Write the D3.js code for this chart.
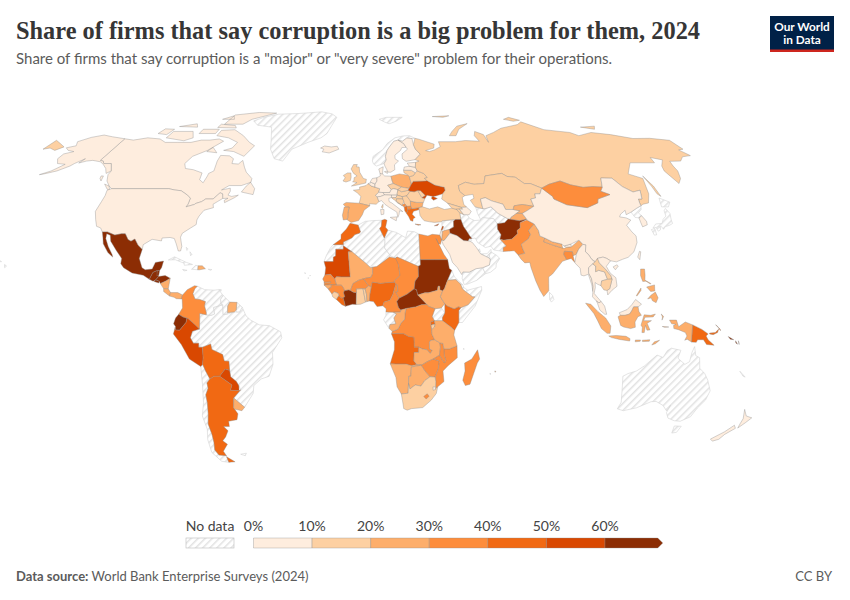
<!DOCTYPE html>
<html><head><meta charset="utf-8">
<script src="https://cdn.jsdelivr.net/npm/d3@7"></script>
<style>html,body{margin:0;padding:0;background:#fff}svg{display:block}</style>
</head><body><svg id="c" width="850" height="600"></svg>
<script>
// ---- Data (share of firms, %; null = no data) ----
const countryNames = ["Greenland","Svalbard","Norway","Brazil","Venezuela","Guyana","French Guiana","Chile","Falklands","Cuba","Haiti","Jamaica","Puerto Rico","Trinidad","Bahamas","Hawaii","Cape Verde","Algeria","Libya","Western Sahara","Gabon","Eritrea","Djibouti","Somalia","Uganda","Yemen","Oman","UAE","Qatar","Kuwait","Iran","Syria","Turkmenistan","Sri Lanka","North Korea","Japan","Australia","New Caledonia","Comoros","Reunion",
"Canada","United States","Mexico","Guatemala","Belize","El Salvador","Honduras","Nicaragua","Costa Rica","Panama","Dominican Republic","Colombia","Suriname","Ecuador","Peru","Bolivia","Paraguay","Argentina","Uruguay","Iceland","Ireland","United Kingdom","France","Spain","Portugal","Belgium","Netherlands","Germany","Denmark","Sweden","Finland","Poland","Czechia","Austria","Switzerland","Italy","Hungary","Slovakia","Slovenia","Croatia","Bosnia","Serbia","Montenegro","Albania","North Macedonia","Greece","Bulgaria","Romania","Moldova","Ukraine","Belarus","Lithuania","Latvia","Estonia","Russia","Turkey","Cyprus","Georgia","Armenia","Azerbaijan","Kazakhstan","Uzbekistan","Kyrgyzstan","Tajikistan","Afghanistan","Pakistan","India","Nepal","Bhutan","Bangladesh","China","Taiwan","Mongolia","South Korea","Iraq","Lebanon","Jordan","Israel","Saudi Arabia","Myanmar","Thailand","Laos","Vietnam","Cambodia","Malaysia","Indonesia","Philippines","Papua New Guinea","Solomon Islands","New Zealand","Morocco","Mauritania","Tunisia","Egypt","Mali","Senegal","Gambia","Guinea-Bissau","Guinea","Sierra Leone","Liberia","Ivory Coast","Ghana","Togo","Benin","Burkina Faso","Niger","Nigeria","Cameroon","Chad","Central African Republic","Sudan","South Sudan","Ethiopia","Kenya","Rwanda","Burundi","DR Congo","Congo","Angola","Zambia","Namibia","Botswana","Zimbabwe","Mozambique","Malawi","Tanzania","South Africa","Lesotho","Eswatini","Madagascar","Mauritius"];
const shareValues = [null,null,null,null,null,null,null,null,null,null,null,null,null,null,null,null,null,null,null,null,null,null,null,null,null,null,null,null,null,null,null,null,null,null,null,null,null,null,null,null,
5,5,65,65,65,65,65,25,25,25,25,35,25,65,55,45,55,45,25,5,15,15,15,25,25,5,5,5,5,5,5,25,15,5,5,5,15,15,5,15,15,15,35,45,35,45,25,15,15,55,15,15,5,5,15,15,55,15,15,5,15,5,25,25,65,35,25,25,5,30,5,5,35,5,65,55,25,5,5,5,5,15,5,15,5,25,25,45,65,5,45,55,45,35,25,35,25,25,35,15,45,65,15,15,25,35,35,45,35,35,65,65,25,25,45,45,15,35,25,45,25,25,25,35,35,35,25,15,35,5,35,25];
const thresholds = [10,20,30,40,50,60];
const binColors = ["#feedde","#fdd0a2","#fdae6b","#fd8d3c","#f16913","#d94801","#8c2d04"];
const legendTicks = [0,10,20,30,40,50,60];
const titleText = "Share of firms that say corruption is a big problem for them, 2024";
const subtitleText = "Share of firms that say corruption is a \"major\" or \"very severe\" problem for their operations.";
// Robinson projection table
const robLat = [0,5,10,15,20,25,30,35,40,45,50,55,60,65,70,75,80,85,90];
const robLen = [1,.9986,.9954,.99,.9822,.973,.96,.9427,.9216,.8962,.8679,.835,.7986,.7597,.7186,.6732,.6213,.5722,.5322];
const robHgt = [0,.062,.124,.186,.248,.31,.372,.434,.4958,.5571,.6176,.6769,.7346,.7903,.8435,.8936,.9394,.9761,1];
// Country outlines: "lon,lat lon,lat ..." rings separated by ";"
const outlines = {
"Greenland":"-73,78.2 -68,80 -60,82 -45,82.5 -30,83.5 -22,82.2 -18,80 -20,76 -22,72 -25,70 -32,68 -40,65 -43,60 -48,61 -52,65 -54,69 -58,75 -68,76",
"Svalbard":"11,79 16,80 27,80 22,78 17,76.7 14,77.7",
"Norway":"7,58 11.2,59 12.5,60.5 12.2,62 13.5,64.5 15,66 18,68.5 20.6,69 23,68.5 26,69.9 29,69.7 30.8,69.8 28,71 24,70.9 19,70 14,67.5 11,64.8 5.5,62 5,60 5.6,58.8",
"Brazil":"-60,5 -59.8,1.3 -58,1.5 -55,2.3 -54.2,2.3 -52.8,2.3 -51.7,4.1 -50,0.8 -48,-0.8 -44.3,-2.6 -40,-2.9 -35.3,-5.2 -34.8,-7.5 -39,-13 -39,-17.5 -41,-22 -44.5,-23 -48,-25.5 -48.7,-28.5 -53.4,-33.7 -57.6,-30.2 -54,-27.1 -54.6,-25.6 -55.5,-24 -57.8,-22.2 -58,-19.8 -58,-16.3 -60,-16.2 -60.5,-13.8 -65,-11.9 -65.4,-9.8 -69,-11 -70.6,-11 -70.5,-9.5 -72.8,-9.5 -74,-7.5 -73,-5 -70,-4.2 -69.8,-0.5 -69.8,1.7 -67,1.2 -65,1 -63.5,1.5 -64,4",
"Venezuela":"-71.3,12 -68,10.7 -64,10.5 -62,10.7 -60,8.5 -61,7 -60.7,5.2 -60,5 -64,4 -63.5,1.5 -65,1 -67,1.2 -67,2 -67.8,4.5 -67.5,6.2 -70,7 -72,7.2 -73,9.2 -72.3,11",
"Guyana":"-60,8.5 -57,6 -57.9,4.5 -58,1.5 -59.8,1.3 -60,5 -60.7,5.2 -61,7",
"French Guiana":"-54,5.9 -51.7,4.1 -52.8,2.3 -54.2,2.3",
"Chile":"-70.4,-18.3 -69.5,-17.5 -68.5,-20 -67,-23 -68.5,-24.5 -68.3,-26.5 -69.8,-29 -69.8,-32 -70.5,-36 -71.8,-40 -71.6,-44 -72,-47 -73,-50 -72,-52 -68.4,-52.3 -68.6,-54.9 -72,-54.5 -75,-51 -74.5,-46 -73,-42 -73.5,-37 -71.5,-32 -70.5,-25",
"Falklands":"-61,-51.7 -58,-51.3 -59,-52.3",
"Cuba":"-85,21.9 -82.5,23.1 -77,21 -74.2,20.2 -77.7,19.9 -78,20.7 -82,22",
"Haiti":"-74.4,18.4 -72.8,19.9 -71.7,19.7 -71.7,18.2",
"Jamaica":"-78.3,18.3 -76.3,18 -77.5,17.8",
"Puerto Rico":"-67.2,18.4 -65.6,18.3 -66,18",
"Trinidad":"-61.9,10.7 -60.9,10.7 -61,10.1",
"Bahamas":"-78,26.7 -77,26 -77.5,25.5;-76,25 -75,24 -75.5,23.5",
"Hawaii":"-156,20.2 -155,19.6 -155.7,19;-158.2,21.6 -157.7,21.3 -158,21.2;-160,22.2 -159.4,22.1 -159.6,21.8",
"Cape Verde":"-25.3,17.1 -24.8,16.9 -25.1,16.7;-23.7,15.3 -23.4,15.1 -23.6,14.9;-22.9,16.2 -22.7,16 -23,15.9",
"Algeria":"-1.1,32.5 -2.2,35.1 1,36.5 5,36.8 8.6,36.9 8.3,34.6 7.5,33.8 9.5,30.2 9.8,29 9.5,26.5 12,23.5 11.6,23 6,19.4 4.2,19.2 3.3,19 1.2,20.7 -4.8,25 -8.7,27.3 -8.7,28.7 -5,30.2 -3.6,31.5 -1.7,32",
"Libya":"9.5,30.2 10.2,31.5 11.2,33.2 15,32.3 19,30.3 20,32.8 23,32.6 25,31.7 25,22 25,20 24,20 24,19.5 15,23 14.2,22.6 12,23.5 9.5,26.5 9.8,29",
"Western Sahara":"-13.2,27.7 -8.7,27.7 -8.7,26 -12,26 -12,23.4 -13,21.3 -17,21.3 -16,23.7 -14.5,26.2",
"Gabon":"8.8,-0.7 9.8,1 9.8,2.3 13,2.2 14.3,1.5 13.2,0 14,-2.2 11.5,-2.5 11.2,-4",
"Eritrea":"36.5,14.3 38.5,18 39.5,15.5 43,12.5 42,12.8 40,14.5 37.5,14.3",
"Djibouti":"42,12.8 43,12.5 43.3,11.5 42.7,11",
"Somalia":"42.7,11 43.3,11.5 45,10.5 51,11.9 51,10.5 48,4.5 42.5,-1.7 41,-1.7 41,2.8 41.9,3.9 45,5 48,8 47,8 44,10",
"Uganda":"30.8,3.5 33.5,3.8 35,1.9 33.9,0.1 34,-1 30.5,-1 29.6,0.6",
"Yemen":"43.3,17.4 46,17.3 49,18.6 52,19 53,16.7 49,14.2 45,12.8 43.5,12.7 42.8,15",
"Oman":"52,19 55,20 55.6,22 55.2,24 56.3,24.9 58.6,23.6 59.8,22.5 58,20.4 57.8,19 55.3,17.3 53,16.7",
"UAE":"51.6,24.2 55.1,22.7 55.6,22 55.2,24 56.3,24.9 56.3,25.9 54.5,24.3",
"Qatar":"50.8,24.7 51.6,25 51.3,26.1 50.8,25.8",
"Kuwait":"47.4,30 47.9,29.9 48.3,29.3 47.4,29 46.6,29.1",
"Iran":"44.8,39.7 48,39 49,37.6 51,36.8 54,37 53.8,37.3 55,38 60,37.5 61,35.6 60.7,33.5 61.8,31.4 60.9,29.8 63.3,27.2 61.8,26.5 61.6,25.1 57.5,25.7 56.5,27.1 54,26.6 50.8,28.5 50,30.2 48.5,30 47.7,31 46.5,33 45.5,34.5 44.8,37.2",
"Syria":"35.8,35.5 36.2,36.7 42.4,37.2 41.3,36.6 41,34.4 38.8,33.4 36.6,33 35.9,34.6",
"Turkmenistan":"52.8,41.8 56,41.3 57,41.3 60,42 62.5,39.5 66.5,37.4 64.5,36 61,35.6 60,37.5 55,38 53.8,37.3 53,39.5",
"Sri Lanka":"80,9.7 81.3,8.5 81.8,7 80.7,6 80,7",
"North Korea":"124.3,40 128,41.5 130.6,42.4 129.7,41 127.5,39.7 128.4,38.6 126.7,37.8 125,38",
"Japan":"131,34 133,35.5 136,35.7 137.5,37.3 139.5,38.5 140,40.5 141.3,41.4 142,39.5 141,37 140.8,35.7 139,35 136.8,34.5 135.5,33.5 135,34.6 132.5,34.2;140,42 141.5,45.4 145.3,43.8 143.2,42;130,33.4 131.7,33.8 131.4,31.4 130.3,31.3;132.5,33.8 134.5,34.2 134,33.3 132.8,32.8",
"Australia":"113.5,-22 114.2,-26 115.7,-31.8 115,-34.3 118,-35 123.5,-33.9 129,-31.6 131.2,-31.5 135,-33 137.7,-35.1 138.4,-32.9 138,-35.7 140,-37.8 143.5,-38.8 146.4,-39 150,-37.3 151,-34 153,-31 153.5,-27.5 151,-23.5 149,-21 146.3,-19 145.3,-15 143.5,-14.2 142.5,-10.8 141.7,-13 141.3,-16.5 139.5,-17.5 136,-15.2 136.8,-12.2 132.6,-11.4 131,-12.3 129.5,-14.9 126.8,-14 125,-15.5 122.2,-18 119,-20 115.5,-21;145,-40.8 148.3,-40.9 148,-43.2 146,-43.5",
"New Caledonia":"164,-20.1 167,-22.3 166,-22",
"Comoros":"43.3,-11.4 43.5,-11.9 43.2,-11.8",
"Reunion":"55.3,-20.9 55.8,-21.1 55.4,-21.3",
"Canada":"-141,69.6 -135,69 -128,70 -120,69.5 -115,68 -108,68 -100,68 -95,69 -90,69 -85,69.5 -81.5,68.5 -85,66 -87,64.5 -93,62 -94.5,59 -92.5,57 -88,56.5 -82.5,55.2 -82,52.5 -79.5,51.3 -79,54 -79,55 -77,56 -77.5,58 -78,60 -78,62.4 -73,62.2 -70,61 -69.5,59 -66,58.8 -64.5,60.3 -62,57.5 -60,55.5 -56,53 -55.8,51.5 -60,50.2 -66,50.2 -69,48.5 -65,49.2 -64.5,48 -65,46.5 -63,46 -60,46.5 -61.5,45.5 -65.5,43.6 -66,44.5 -64.5,45.3 -67,45.2 -67.8,47 -69.2,47.4 -71.5,45 -75,45 -76.5,44 -79,43.3 -79.5,42.9 -83,42 -82.5,43.1 -82.5,45.3 -84.5,46.5 -88.5,48.2 -92,48.5 -95,49 -123,49 -125,50 -128,52 -130,54.5 -130,56 -133.5,59 -137.5,59 -139,60 -141,60.3;-62,66.5 -65,62 -72,64 -78,64.5 -74,65.5 -73,68 -80,70 -88,71 -88,73.5 -80,73.8 -72,71 -66,68;-117,70 -105,68.7 -101,70 -105,73 -117,73;-125,72 -119,71.5 -118,74 -124,74.2;-90,76.5 -78,76.5 -75,79 -62,82.7 -75,83.1 -90,81.5;-92,74.8 -80,74.6 -82,75.8 -92,76.5;-95,79 -87,79 -90,81;-117,75.3 -105,75 -108,76.7;-100,72 -90,72 -90,74 -100,74;-87,64 -81,63.5 -85,65.8;-59,47.7 -53,46.7 -53,49 -56,51.5 -57.5,50;-128,50.8 -125,50 -123.5,48.4 -125,48.8;-133,54 -131.8,54 -131,52 -132.5,53",
"United States":"-124.7,48.4 -123,49 -95,49 -92,48.5 -88.5,48.2 -84.5,46.5 -82.5,45.3 -82.5,43.1 -83,42 -79.5,42.9 -79,43.3 -76.5,44 -75,45 -71.5,45 -69.2,47.4 -67.8,47 -67,45.2 -69,44 -70.7,43 -70,41.7 -74,40.7 -75.5,38.5 -76,37 -75.7,35.3 -78,33.9 -81,32 -81.4,30.5 -80,27 -80.2,25.3 -81.2,25.3 -82.7,28 -84,30 -86,30.4 -89.5,30.2 -89.5,29.1 -93.8,29.7 -97.2,27.7 -97.2,25.9 -99.5,27.5 -101.5,29.8 -103,29 -104.5,29.6 -106.5,31.8 -108.2,31.8 -111,31.3 -114.8,32.5 -117.1,32.5 -118.5,34 -120.6,34.6 -122.4,37.2 -124.3,40.3 -124,44 -124,46.3;-141,69.6 -141,60.3 -139,60 -137.5,59 -133.5,59 -130,56 -131.5,55 -134,57 -137,58.5 -140,59.7 -145,60.3 -148,60 -151,59.2 -150,61 -153,59 -154,58 -158,56 -163,54.8 -165,54.5 -161,56 -157.5,58.7 -162,59 -165,61 -165,63 -161,64 -165,64.5 -168,65.6 -164,66.5 -166.5,68.3 -162,70.2 -156.5,71.3 -150,70.5",
"Mexico":"-117.1,32.5 -114.8,32.5 -111,31.3 -108.2,31.8 -106.5,31.8 -104.5,29.6 -103,29 -101.5,29.8 -99.5,27.5 -97.2,25.9 -97.8,22.5 -96,19 -94.5,18.2 -91.5,18.5 -90.5,21 -87,21.5 -87.5,19 -88.2,17.9 -89.2,17.9 -91,17.2 -92.2,14.6 -95,16.1 -100,17 -104,19 -105.5,20.5 -105.5,22.5 -108.5,25.5 -112,29 -113,31.2 -114.8,31.8 -114.5,30 -112.5,27 -110,24 -109.5,23 -112,24.7 -115,28 -116,30.5",
"Guatemala":"-92.2,14.6 -91,17.2 -89.2,17.9 -88.3,15.7 -89.4,14.4 -90.5,13.9",
"Belize":"-89.2,17.9 -88.2,17.9 -88.3,16.2 -89.1,15.9",
"El Salvador":"-90.1,13.8 -89.4,14.4 -87.8,13.9 -88,13.2",
"Honduras":"-89.4,14.4 -88.3,15.7 -85.5,16 -83.2,15 -85,14 -87.3,13 -87.8,13.9",
"Nicaragua":"-87.3,13 -85,14 -83.2,15 -83.7,11 -85.7,11.1",
"Costa Rica":"-85.7,11.1 -83.7,11 -82.6,9.6 -83,8.3 -85.6,10",
"Panama":"-83,8.3 -82.6,9.6 -79.5,9.6 -77.4,8.7 -77.9,7.2 -80,7.3 -81,7.8",
"Dominican Republic":"-71.7,19.7 -69.9,19.7 -68.4,18.6 -71,18.2 -71.7,18.2",
"Colombia":"-77.4,8.7 -75.5,10.7 -72.5,12.2 -71.3,12 -72.3,11 -73,9.2 -72,7.2 -70,7 -67.5,6.2 -67.8,4.5 -67,2 -67,1.2 -69.8,1.7 -69.8,-0.5 -70,-4.2 -72,-2.5 -74.8,-0.2 -77,0.4 -78.8,1.4 -77.2,3.8 -77.5,7.2 -77.9,7.2",
"Suriname":"-57,6 -54,5.9 -54.2,3 -55,2.3 -57.9,2 -57.9,4.5",
"Ecuador":"-78.8,1.4 -77,0.4 -75.3,-0.1 -75.6,-1.6 -78.5,-4.6 -80.3,-4.5 -80.2,-3.2 -81,-2.2 -80.1,0",
"Peru":"-80.3,-3.4 -80.3,-4.5 -78.5,-4.6 -75.6,-1.6 -75.3,-0.1 -74.8,-0.2 -72,-2.5 -70,-4.2 -73,-5 -74,-7.5 -72.8,-9.5 -70.5,-9.5 -70.6,-11 -69,-11 -69,-15 -69.5,-17.5 -70.4,-18.3 -75,-15.5 -78,-10 -81.2,-6",
"Bolivia":"-69,-11 -65.4,-9.8 -65,-11.9 -60.5,-13.8 -60,-16.2 -58,-16.3 -58,-19.8 -59.9,-19.3 -62.6,-22 -65,-22 -67,-23 -68.5,-20 -69.5,-17.5 -69,-15",
"Paraguay":"-62.6,-22 -59.9,-19.3 -58,-19.8 -57.8,-22.2 -55.5,-24 -54.6,-25.6 -54.8,-27.4 -58.6,-27.3 -57.6,-25.3",
"Argentina":"-67,-23 -65,-22 -62.6,-22 -57.6,-25.3 -58.6,-27.3 -54.8,-27.4 -54,-27.1 -57.6,-30.2 -58.4,-33.9 -57,-36.2 -58,-38.4 -62,-39 -62.3,-41 -65,-41 -63.5,-42.6 -65.5,-45 -67.5,-46.5 -65.8,-47.8 -69,-50.5 -68.4,-52.3 -72,-52 -73,-50 -72,-47 -71.6,-44 -71.8,-40 -70.5,-36 -69.8,-32 -69.8,-29 -68.3,-26.5 -68.5,-24.5;-68.6,-52.7 -65.3,-54.7 -68.6,-54.9",
"Uruguay":"-58.4,-33.9 -57.6,-30.2 -53.4,-33.7 -54.9,-35 -58.2,-34.4",
"Iceland":"-24,65.5 -22,66.4 -18,66 -14.7,66.3 -13.6,65 -18.7,63.4 -22.7,63.9 -22,65",
"Ireland":"-10,52 -9,53.3 -10,54.2 -8,55.2 -6.2,55.2 -6,53.5 -6.3,52.2 -8.5,51.6",
"United Kingdom":"-5.7,50 -3.5,50.3 1.4,51.2 1.7,52.7 0.2,53 -1.7,55.5 -2,57.6 -3.5,57.7 -3,58.6 -5,58.6 -6.2,56.8 -4.8,55 -3,54 -4.5,53.3 -4.5,52.2 -5.2,51.7 -3,51.4",
"France":"-1.8,43.4 -1,46 -2.8,47.4 -4.7,48.4 -1.6,48.7 -1.7,49.6 1.5,50.2 2.5,51 4.2,50 5.8,49.6 8.2,49 7.6,47.6 6,46.4 6.8,45.8 7.6,44 6.2,43 3.1,43.2 3.2,42.4;8.6,41.9 9.4,43 9.4,42 9.1,41.4",
"Spain":"-9.3,43 -8,43.7 -1.8,43.4 3.2,42.4 0.5,40.7 -0.3,39 -2,36.8 -5.4,36.1 -7.4,37.2 -7,38 -7,39.6 -6.5,41.9 -8.2,42",
"Portugal":"-8.8,41.9 -6.5,41.9 -7,39.6 -7,38 -7.4,37.2 -9,37 -9.5,38.8",
"Belgium":"2.5,51 4.3,51.4 6,50.8 5.8,49.6 4.2,50",
"Netherlands":"3.5,51.5 4.7,53 7,53.3 7,52 6,50.8 4.3,51.4",
"Germany":"6,50.8 7,52 7,53.3 8.8,54 8.7,55 10,54.8 11,54 14.2,53.9 14.6,52 15,51 12.2,50.3 13.8,48.7 13,47.5 9.6,47.5 7.6,47.6 8.2,49 5.8,49.6",
"Denmark":"8.7,55 8.2,56.8 10.6,57.7 10.2,56 10,54.8;11,55.7 12.6,56 12.5,55",
"Sweden":"11.2,59 11.5,58 12.9,55.5 14.3,55.5 16.5,56.5 16.6,58.5 19,60 17.3,61 17.5,62.5 21,64.5 22,65.7 24.5,65.8 23.5,67.5 20.6,69 18,68.5 15,66 13.5,64.5 12.2,62 12.5,60.5",
"Finland":"20.6,69 23,68.5 26,69.9 29,69.7 29,67 29.5,65 31.5,62.9 28,60.6 23,59.9 21.3,61 21.5,63 25,65 24.5,65.8 23.5,67.5",
"Poland":"14.2,53.9 18.6,54.8 23,54.3 23.5,53.7 24,50.8 22.6,49.1 18.8,49.6 15,51 14.6,52",
"Czechia":"12.2,50.3 15,51 18.8,49.6 17,48.6 15,49 13.8,48.7",
"Austria":"9.6,47.5 13,47.5 13.8,48.7 15,49 17,48.6 16.5,47 16.5,46.5 13.7,46.5 10.4,46.6",
"Switzerland":"6,46.4 7.6,47.6 9.6,47.5 10.4,46.6 8.5,46 6.8,45.8",
"Italy":"7.6,44 6.8,45.8 8.5,46 10.4,46.6 13.7,46.5 13.7,45.6 12.3,45.2 12.4,44 13.6,43.5 16,41.9 18.5,40.2 17,40.5 16.6,39 16,38 15.7,40 12.3,41.8 10.3,43 8.8,44.4;12.5,38 15.6,38.2 15.2,36.7;8.2,41 9.8,41 9.6,39.2 8.4,39",
"Hungary":"16.5,47 17,48.6 18.8,47.8 22,48.4 22.9,48 21,46.2 18.8,45.9 16.5,46.5",
"Slovakia":"17,48.6 18.8,49.6 22.6,49.1 22,48.4 18.8,47.8",
"Slovenia":"13.7,46.5 16.5,46.5 15.7,45.5 13.7,45.5",
"Croatia":"13.7,45.5 15.7,45.5 16.5,46.5 18.8,45.9 19,45 16,45.1 15.8,44.2 18.4,42.5 16.5,43.4 15,44.6 14.3,45",
"Bosnia":"16,45.1 19,45 19.4,44 18.5,42.8 18.4,42.5 15.8,44.2",
"Serbia":"18.8,45.9 21,46.2 22.5,44.6 22.4,43 22.4,42.3 20.6,42 19.5,43.2 19.4,44 19,45",
"Montenegro":"18.5,42.8 19.5,43.2 20.3,42.7 19.3,41.9 18.5,42.4",
"Albania":"19.3,41.9 20.5,42.4 20.9,41 20.9,40.3 20,39.7 19.4,40.5",
"North Macedonia":"20.5,42.2 22.4,42.3 23,41.3 20.9,41",
"Greece":"20,39.7 20.9,40.3 20.9,41 23,41.3 26.2,41.7 26,40.9 23.5,40.3 22.7,39.2 24,38 23,37.5 22.8,36.5 21.7,36.8 21,38.3;23.6,35.5 26.3,35.2 25,35",
"Bulgaria":"22.4,43 22.5,44.2 25.5,43.7 28.5,43.7 27.8,42 26.2,41.7 23,41.3 22.4,42.3",
"Romania":"21,46.2 22.9,48 24.9,47.8 26.6,48.3 28.2,45.5 29.6,45.2 28.6,43.7 25.5,43.7 22.5,44.2",
"Moldova":"26.6,48.3 28,48.2 30,46.4 28.2,45.5",
"Ukraine":"22,48.4 22.6,49.1 24,50.8 25,51.9 31,52 32,52.2 35.5,50.4 40,49.5 40,48.3 38.5,47 35,46.2 33.6,46 35.5,45.2 33.5,44.5 32.6,45.4 33.5,46 30.8,46.5 29.6,45.2 28.2,45.5 30,46.4 28,48.2 26.6,48.3 24.9,47.8 22.9,48",
"Belarus":"24,50.8 23.5,53.7 25.7,54.2 26.8,55.3 28,56 31,55 32.5,53.4 31,53 32,52.2 31,52 25,51.9",
"Lithuania":"21,55.3 21,56.3 25,56.3 26.8,55.3 25.7,54.2 23.5,53.7 23,54.3",
"Latvia":"21,56.3 21.6,57.6 24.3,57.9 27.4,57.5 28,56 26.8,55.3 25,56.3",
"Estonia":"23.5,59.2 28,59.5 27.4,57.5 24.3,57.9",
"Russia":"30.8,69.8 33,69.4 41,67.2 40,65.5 35,64.4 37,64 40,64.7 44,66.1 44,68.3 54,68.3 60,68.8 68,68.5 67,71 69,73 73,71.5 73,68 74,71 80,72.5 87,74.5 100,76.3 104.5,77.7 113,73.8 127,72.5 130,71 140,72.5 150,71.5 160,69.7 170,69.8 180,68.9 180,65 177,64.7 179.2,62.3 174,61.8 170,60 164,59.9 163,58 162.5,56 160,53 156.8,51 155.5,56 157,58 161,60.5 156,61.5 155,59.3 142,59.3 135.5,54.8 141,53 138,47 135,43.5 132,43 130.6,42.4 130.8,43.5 131.3,45 133,45 135,48.4 131,47.7 127.5,49.8 125.5,53.1 120,53.2 117.5,49.6 113,49.8 108,49.5 102.5,50.5 98.5,52 92,50.7 87.5,49.2 83,51 80,51 77,53.5 73,53.8 71,55 62,54 60,51 55,50.7 51,51.5 47,50.2 47,48 49,46.3 47.5,45.6 47.5,43 48.5,41.9 46,41.8 40,43.4 37.5,45 38.5,47 40,48.3 40,49.5 35.5,50.4 32,52.2 31,53 32.5,53.4 31,55 28,56 27.4,57.5 28,59.5 30,60 28,60.6 31.5,62.9 29.5,65 29,67;52,71 55,73 60,75.5 68,76.8 60,74 56,71;142,54 143,50 143,46 142,47 142,50;95,79 100,80 105,78.5 100,78;138,75 148,75.5 145,74;-180,68.9 -175,67.5 -170,66 -172.5,64.5 -177,65.5 -180,65;48,80.5 60,81 55,80",
"Turkey":"26.2,40 26.2,41.7 28,42 31,41.2 35,42 38,41 41.5,41.5 43.5,41.1 44.8,39.7 44.8,37.2 42.4,37.2 36.2,36.7 35.8,36.3 32.5,36.1 30.5,36.3 28,36.7 27.2,37.5 26.3,38.7",
"Cyprus":"32.3,34.8 34.5,35.6 33.8,34.9",
"Georgia":"40,43.4 46,41.8 46.5,41.1 43.5,41.1 41.5,41.5",
"Armenia":"43.5,41.1 45,41.2 46.5,39 44.8,39.7",
"Azerbaijan":"46,41.8 48.5,41.9 50.3,40.3 49,39 48,39 46.5,39 45,41.2 46.5,41.1",
"Kazakhstan":"47,48 47,50.2 51,51.5 55,50.7 60,51 62,54 71,55 73,53.8 77,53.5 80,51 83,51 87.5,49.2 85.5,47 83,47 82.5,45.4 80,45 80.2,42.2 75,42.9 71,42.4 70,41 66.5,41 66,43 61,44.3 58.5,45.5 56,45 56,41.3 52.5,42 51,44.5 53,45.3 53,46.8 49,46.3",
"Uzbekistan":"56,41.3 56,45 58.5,45.5 61,44.3 66,43 66.5,41 70,41 73,40.5 71,39.5 68,38 67.5,37.3 66.5,37.4 62.5,39.5 60,42 57,41.3",
"Kyrgyzstan":"71,42.4 75,42.9 80.2,42.2 76,40.4 73.7,39.5 71,39.5 73,40.5 70,41",
"Tajikistan":"68,38 71,39.5 73.7,39.5 75,37.3 71.5,36.7 68,37.2 67.5,37.3",
"Afghanistan":"61,35.6 64.5,36 66.5,37.4 67.5,37.3 68,37.2 71.5,36.7 75,37.3 71.5,36 71,34 69.3,33 69.3,31.8 66.5,30 66.3,29.8 62.5,29.4 60.9,29.8 61.8,31.4 60.7,33.5",
"Pakistan":"60.9,29.8 62.5,29.4 66.3,29.8 66.5,30 69.3,31.8 69.3,33 71,34 71.5,36 75,37 77.8,35.5 74.5,33 75,31.5 73.5,29.8 70,27.8 70.5,25.7 71,24.4 68,23.8 66.5,25.4 61.6,25.1 61.8,26.5 63.3,27.2",
"India":"68,23.8 71,24.4 70.5,25.7 70,27.8 73.5,29.8 75,31.5 74.5,33 77.8,35.5 79,33 79,31 81,30.2 80.2,28.8 84,27.5 88,26.4 88.8,26.3 89.8,26.7 92,26.9 96,29.4 97.3,27.8 95,26 93.5,24 92,23.5 92,25 88.5,25.2 88,24 89,22 87,21.4 85,19.5 82,16.6 80.2,15.5 80,13 79.8,10.3 77.5,8.1 76,10.5 74.5,14 73,19 72.7,21 70.5,20.8 69,22.3",
"Nepal":"80.2,28.8 81,30.2 84,28.8 88,27.9 88,26.4 84,27.5",
"Bhutan":"88.8,27.2 92,27.9 92,26.9 89.8,26.7",
"Bangladesh":"88,24 88.5,25.2 92,25 92,23.5 92.3,21 91,22.5 89,22",
"China":"73.7,39.5 76,40.4 80.2,42.2 80,45 82.5,45.4 83,47 85.5,47 87.5,49.2 91,46 91,45 96,42.8 105,41.7 111,43.5 112,45 119,46.7 115.5,48 117.5,49.6 120,53.2 125.5,53.1 127.5,49.8 131,47.7 135,48.4 133,45 131.3,45 130.8,43.5 130.6,42.4 128,41.5 124.3,40 121.5,39 122,40.7 119,39.2 118,38.2 120.8,37.8 122.5,37 119.5,35 120.8,32.5 122,31 121.5,28.5 119,25 116,22.9 113.5,22.2 110.5,21.2 108,21.6 106.5,22.5 105,23 102.5,22.5 101.5,21.2 100,22 98.8,24 97.7,25 98.5,27.6 97.3,27.8 96,29.4 92,27.9 88.8,27.2 88,27.9 84,28.8 81,30.2 79,31 79,33 77.8,35.5 75,37 75,37.3;108.7,19.3 110.5,20.1 111,19.6 109.5,18.2",
"Taiwan":"120.2,23 121.5,25.2 122,25 120.9,22",
"Mongolia":"87.5,49.2 92,50.7 98.5,52 102.5,50.5 108,49.5 113,49.8 117.5,49.6 115.5,48 119,46.7 112,45 111,43.5 105,41.7 96,42.8 91,45 91,46",
"South Korea":"126.7,37.8 128.4,38.6 129.4,36.5 129,35.2 126.5,34.4 126.5,36",
"Iraq":"38.8,33.4 41,34.4 41.3,36.6 42.4,37.2 44.8,37.2 45.5,34.5 46.5,33 47.7,31 48.5,30 47.9,29.9 47.4,30 46.6,29.1 44.7,29.2 42,31.1 39,32",
"Lebanon":"35.1,33.1 35.9,34.6 36.5,34.5 35.7,33.2",
"Jordan":"34.9,29.4 35.5,32 35.6,32.7 36.6,33 38.8,33.4 39,32 36,29.2",
"Israel":"34.3,31.3 34.9,29.5 35.5,32 35.6,33 35.1,33",
"Saudi Arabia":"34.9,29.4 36,29.2 39,32 42,31.1 44.7,29.2 46.6,29.1 47.4,29 48.5,28.5 50.1,26.5 51.6,24.2 55.1,22.7 55.6,22 55,20 52,19 49,18.6 46,17.3 43.3,17.4 42.7,16.4 41,19 39,21 38,24 35.5,27.7",
"Myanmar":"92.3,20.8 93.5,24 95,26 97.3,27.8 98.5,27.6 97.7,25 98.8,24 100,22 101.2,21.2 100,20.4 98,19 97.7,17 98.6,15 99,12 98.7,10 98.5,12.5 97.5,16.5 95.5,15.9 94.3,16.2 94.3,18.8",
"Thailand":"97.7,17 98,19 100,20.4 101.2,19.6 100.8,17.5 102.2,18 104.7,17.4 105.5,14.6 102.9,14 102.4,12.2 100.9,12.8 100,13.4 99.9,11.5 99.2,9.3 100.3,8 102,6.2 101,5.7 100,6.4 98.4,8 98.7,10 99,12 98.6,15",
"Laos":"100,20.4 101.2,21.2 102.5,22.5 103,20.8 105.1,18.6 107.2,16 107.5,14.7 105.5,14.6 104.7,17.4 102.2,18 100.8,17.5 101.2,19.6",
"Vietnam":"102.5,22.5 105,23 106.5,22.5 108,21.6 105.8,19.5 107,17 109.2,15.2 109.3,12 107,10.5 105,8.7 104.8,10.4 106,11 107.5,14.7 107.2,16 105.1,18.6 103,20.8",
"Cambodia":"102.4,12.2 102.9,14 105.5,14.6 107.5,14.7 106,11 104.8,10.4 103.5,10.6",
"Malaysia":"100,6.4 101,5.7 102,6.2 103.4,4.5 104.2,1.4 103.4,1.4 101.3,3 100.4,5.5;109.6,2 111.3,2.6 113,3.2 115,5 116.8,7 119.2,5.2 117.7,4.2 115.8,4.2 115,2.8 114,1.5 112,1 110,1",
"Indonesia":"109,0.5 110,1 112,1 114,1.5 115,2.8 115.8,4.2 117.7,4.2 118,2.5 119,1 117.5,0.5 116.3,-1.5 116.5,-3.5 114.5,-4 111.5,-3.4 110.2,-2.8;95.3,5.6 97.5,5.2 100.4,2.5 103.7,0 106,-3 105.8,-5.8 104.5,-5.8 102,-4 100.3,-1 98.7,1.7;105.3,-6.8 108.5,-6.6 112.7,-6.9 114.5,-7.8 114.4,-8.7 110,-8.1 106.5,-7.4;119.5,-3.5 118.9,-2.7 119.8,0.2 120.2,1.2 123,1 125,1.5 124,0.4 120.5,0.3 120,-1 121.5,-1 123.3,-1 121.5,-2 122.8,-4.5 121.5,-4.6 120.8,-2.8 120.4,-5.5 119.4,-5.5;124,-10.2 125,-9 127.2,-8.4 125.5,-9.7;116.8,-8.3 119,-8.3 118.9,-8.8 116.8,-9;119.8,-8.4 123,-8.2 122.8,-8.8 119.9,-8.9;127.5,1.5 128,0.4 127.8,-0.8 128.5,0.6;128,-3.2 130.8,-3.4 129,-3.5;131,-0.8 134,-0.8 135,-3.3 137.8,-1.5 141,-2.6 141,-9.1 139,-8 138,-8.4 138.8,-6.8 138,-5.5 135,-4.4 133,-4 132.8,-2.8 133.8,-2.4 132,-2.2",
"Philippines":"120.5,18.5 122.2,18.5 122,16.2 121.6,14.3 124,13 123.8,12.8 122,13.9 120.6,13.8 120,16;122,7.2 123.5,8.6 125.5,9.8 126.5,7.6 125.5,5.8 124,6.5 123.5,7.6;122,11.7 125.5,12.5 125.3,10.2 123.5,10;117.2,8.4 119.5,11.3 119.4,10.4 117.6,8.4",
"Papua New Guinea":"141,-2.6 145,-4.3 147.8,-6 147,-6.8 148,-8.2 150.8,-10.3 147.5,-10 146,-8.2 143.5,-8.2 143,-9.2 141,-9.1;148.4,-5.7 150.8,-5.5 152.2,-4.2 151.8,-5.5 150,-6.3 148.4,-6;150.8,-2.6 152.8,-4.2 153,-4.8 151.5,-3",
"Solomon Islands":"156.5,-7 159,-8.2 157.5,-8;159.8,-8.6 160.8,-9.9 160,-9.4;161,-8.6 161.5,-10 161.2,-9",
"New Zealand":"172.7,-34.5 175.3,-37 178.4,-37.7 177,-39.5 175.3,-41.6 174.8,-39.8 174.7,-38;172.7,-40.5 174.3,-41.7 171.5,-44 170.6,-45.9 168.3,-46.6 166.5,-45.8 170.5,-43",
"Morocco":"-5.9,35.8 -2.2,35.1 -1.1,32.5 -1.7,32 -3.6,31.5 -5,30.2 -8.7,28.7 -8.7,27.7 -13.2,27.7 -9.8,29.8 -9.8,31.5 -7.5,33.6",
"Mauritania":"-17,21.3 -13,21.3 -13,23 -12,23.4 -12,26 -8.7,26 -8.7,27.3 -4.8,25 -6.5,25 -5.5,15.5 -9.3,15.5 -11.5,15.6 -12.2,14.7 -14,16.5 -16.5,16.2 -16.2,19",
"Tunisia":"8.6,36.9 10,37.3 11,36.9 10.2,34.3 11.2,33.2 10.2,31.5 9.5,30.2 7.5,33.8 8.3,34.6",
"Egypt":"25,31.7 29,31 31,31.6 34.3,31.3 34.9,29.5 34.3,27.8 33.5,28 32.5,30 33.6,27.8 35.5,24 37,22 31.4,22 25,22",
"Mali":"-12.2,14.7 -11.5,15.6 -9.3,15.5 -5.5,15.5 -6.5,25 -4.8,25 1.2,20.7 3.3,19 4.2,19.2 4.2,16.8 3.5,15.4 1,15 0.2,14.8 -2,14.2 -3.5,13.4 -4.3,13 -5.4,10.4 -6.2,10.6 -8,10.3 -8.4,11.4 -9.3,12.4 -11.4,12.4",
"Senegal":"-17.4,14.7 -16.5,16.2 -14,16.5 -12.2,14.7 -11.4,12.4 -13.7,12.6 -16.7,12.4 -16.7,13.6",
"Gambia":"-16.7,13.5 -13.9,13.7 -13.9,13.3 -16.7,13.2",
"Guinea-Bissau":"-16.7,12.4 -13.7,12.6 -13.7,11.6 -15,11",
"Guinea":"-13.7,12.6 -11.4,12.4 -9.3,12.4 -8.4,11.4 -8,10.3 -8.3,9.5 -7.8,8 -8.5,7.6 -9.4,7.5 -10.3,8.5 -10.7,9.3 -12.4,9.9 -13.3,9 -15,11 -13.7,11.6",
"Sierra Leone":"-13.3,9 -12.4,9.9 -10.7,9.3 -10.3,8.5 -11.4,7 -13,8",
"Liberia":"-11.4,7 -10.3,8.5 -9.4,7.5 -8.5,7.6 -8.1,6.5 -7.5,4.4 -9,5",
"Ivory Coast":"-7.5,4.4 -8.1,6.5 -8.5,7.6 -7.8,8 -8.3,9.5 -8,10.3 -6.2,10.6 -5.4,10.4 -4,9.7 -2.8,9.6 -2.9,5.1 -4.5,5.2",
"Ghana":"-2.9,5.1 -2.8,9.6 -2.9,11 0,11.1 0.6,8.3 1.1,6 -1,5.2",
"Togo":"0,11.1 0.9,11 1.5,9 1.7,6.2 1.1,6 0.6,8.3",
"Benin":"0.9,11 2.4,12.2 3.6,11.7 3,9 2.7,6.4 1.7,6.2 1.5,9",
"Burkina Faso":"-5.4,10.4 -4.3,13 -3.5,13.4 -2,14.2 0.2,14.8 2,12.7 2.4,12.2 0.9,11 0,11.1 -2.9,11 -2.8,9.6 -4,9.7",
"Niger":"0.2,14.8 1,15 3.5,15.4 4.2,16.8 4.2,19.2 6,19.4 11.6,23 14.2,22.6 15,23 15.5,20 16,16 13.5,14 13.6,13.5 10.5,13.3 7.5,13 4,13.5 3.6,11.7 2.4,12.2 2,12.7",
"Nigeria":"2.7,6.4 3,9 3.6,11.7 4,13.5 7.5,13 10.5,13.3 13.6,13.5 14.2,12.8 13.5,11 12.8,8.9 11.5,6.7 9,6 8.5,4.6 6,4.3 4.5,6.2",
"Cameroon":"8.5,4.6 9,6 11.5,6.7 12.8,8.9 13.5,11 14.2,12.8 14.8,12.5 15,10 14,9.8 15.5,7.5 14.5,6.2 15.2,4 16.2,3 16,2.2 13,2.2 9.8,2.3 9.9,3.5",
"Chad":"14.2,22.6 15,23 24,19.5 24,15.7 22.5,14 22,11 18.9,9 15.5,7.5 14,9.8 15,10 14.8,12.5 14.2,12.8 13.6,13.5 13.5,14 16,16 15.5,20",
"Central African Republic":"14.5,6.2 15.5,7.5 18.9,9 22,11 23,10.7 23.5,8.7 27.4,5.1 25,5 22.5,4.2 18.5,3.6 16.2,3 15.2,4",
"Sudan":"24,15.7 24,19.5 25,20 25,22 31.4,22 37,22 37.5,18.7 38.5,18 36.5,14.3 35,11 34.2,10.2 33,10.7 33,12 32.3,12 32,10.5 30,10 28,9.5 26.5,9.5 23.5,8.7 23,10.7 22,11 22.5,14",
"South Sudan":"23.5,8.7 26.5,9.5 28,9.5 30,10 32,10.5 32.3,12 33,12 33,10.7 34.2,10.2 33.2,8 35,5.4 33.5,3.8 30.8,3.5 28,4.4 27.4,5.1",
"Ethiopia":"36.5,14.3 37.5,14.3 40,14.5 42,12.8 42.7,11 44,10 47,8 48,8 45,5 41.9,3.9 40.8,4.2 39,3.4 36,4.5 35,5.4 33.2,8 34.2,10.2 35,11",
"Kenya":"35,5.4 36,4.5 39,3.4 40.8,4.2 41.9,3.9 41,2.8 41,-1.7 39.2,-4.7 37.7,-3.5 34,-1 33.9,0.1 35,1.9",
"Rwanda":"29,-1.4 30.5,-1 30.8,-2.3 29,-2.7",
"Burundi":"29,-2.7 30.8,-2.3 30.6,-3.4 29.4,-4.4",
"DR Congo":"12.2,-6 12.5,-5 13.3,-4.8 15,-4.2 16.2,-2 17.8,-0.5 18,2 18.5,3.6 22.5,4.2 25,5 27.4,5.1 28,4.4 30.8,3.5 29.6,0.6 30.5,-1 29,-1.4 29,-2.7 29.4,-4.4 29.5,-6 30.7,-8.2 28.9,-8.5 28.5,-9.2 28.6,-11.7 29.8,-12.2 29,-13.4 27.5,-12 25.5,-11.7 24,-11 22,-11 21.8,-7.3 19.5,-7 17.5,-6 13,-5.9",
"Congo":"11.2,-4 11.5,-2.5 14,-2.2 13.2,0 14.3,1.5 13,2.2 16,2.2 16.2,3 18.5,3.6 18,2 17.8,-0.5 16.2,-2 15,-4.2 13.3,-4.8 12.5,-5",
"Angola":"11.8,-17.3 13.5,-12 13.5,-9 12.2,-6 13,-5.9 17.5,-6 19.5,-7 21.8,-7.3 22,-11 24,-11 24,-13 22,-13 22,-16.2 23.4,-17.6 21,-18 18.5,-17.4 14,-17.4",
"Zambia":"22,-13 24,-13 24,-11 25.5,-11.7 27.5,-12 29,-13.4 29.8,-12.2 28.6,-11.7 28.5,-9.2 28.9,-8.5 30.7,-8.2 33,-9.4 33.3,-11 33,-14 30.3,-15.5 28,-16.4 25.3,-17.8 23.4,-17.6 22,-16.2",
"Namibia":"11.8,-17.3 14,-17.4 18.5,-17.4 21,-18 23.4,-17.6 25.3,-17.8 21,-18.5 20.9,-22 20,-22 20,-28.4 17,-28.7 15,-26 14.4,-22.5",
"Botswana":"20,-22 20,-24.7 20.7,-26.8 23,-25.3 25.5,-25.7 27,-23.7 29.3,-22.2 27,-20 25.3,-17.8 21,-18.5 20.9,-22",
"Zimbabwe":"25.3,-17.8 28,-16.4 30.3,-15.5 33,-16.2 32.8,-19 31.5,-22.3 29.3,-22.2 27,-20",
"Mozambique":"30.3,-15.5 33,-14 33.3,-14.5 34.5,-16 35.3,-17 35.8,-16 35,-14 34.8,-11.6 37,-11.7 40.4,-10.5 40.7,-15 37,-17.9 34.8,-20 35.5,-24 32.9,-26 32,-26.8 31.9,-24 31.5,-22.3 32.8,-19 33,-16.2",
"Malawi":"33,-9.4 34.3,-9.6 34.8,-11.6 35,-14 35.8,-16 35.3,-17 34.5,-16 33.3,-14.5 33,-14 33.3,-11",
"Tanzania":"30.5,-1 34,-1 37.7,-3.5 39.2,-4.7 38.9,-6.4 39.5,-8 40.4,-10.5 37,-11.7 34.8,-11.6 34.3,-9.6 33,-9.4 30.7,-8.2 29.5,-6 29.4,-4.4 30.6,-3.4 30.8,-2.3",
"South Africa":"17,-28.7 20,-28.4 20,-24.7 20.7,-26.8 23,-25.3 25.5,-25.7 27,-23.7 29.3,-22.2 31.5,-22.3 31.9,-24 32,-26.8 32.9,-26 32.5,-28.5 30.5,-31 27,-33.8 25,-34 22,-34.2 20,-34.8 18.4,-34.2 18,-32.5",
"Lesotho":"27,-29.6 28.5,-28.6 29.4,-29.5 28.2,-30.6",
"Eswatini":"30.8,-26 32,-26 32,-27 31,-27.3",
"Madagascar":"49.3,-12 50.4,-15.5 49.5,-17 47,-25 45,-25.5 43.7,-23.5 44.4,-20 44,-17 47,-15.5",
"Mauritius":"57.3,-20 57.8,-20.1 57.6,-20.5"
};

// ---- Drawing ----
const svg = d3.select("#c");
const font = "Lato, 'Open Sans', sans-serif";
const color = d3.scaleThreshold().domain(thresholds).range(binColors);
const lenAt = d3.scaleLinear().domain(robLat).range(robLen);
const hgtAt = d3.scaleLinear().domain(robLat).range(robHgt);
const geoToPage = d3.geoTransform({point(lon, lat){
  const a = Math.abs(lat);
  this.stream.point(363 + 2.34*lon*lenAt(a), 318 - Math.sign(lat)*213.6*hgtAt(a));
}});
const path = d3.geoPath(geoToPage);
const toFeature = name => ({type:"Feature",properties:{name, value:shareValues[countryNames.indexOf(name)]},
  geometry:{type:"MultiPolygon",coordinates:outlines[name].split(";").map(r=>{
    const ring=r.trim().split(/\s+/).map(p=>p.split(",").map(Number)); ring.push(ring[0]); return [ring];})}});
const features = countryNames.map(toFeature);

const defs = svg.append("defs");
const pat = defs.append("pattern").attr("id","nodata").attr("patternUnits","userSpaceOnUse")
  .attr("width",5).attr("height",5).attr("patternTransform","rotate(-45)");
pat.append("rect").attr("width",5).attr("height",5).attr("fill","#fff");
pat.append("rect").attr("width",5).attr("height",1.5).attr("fill","#e2e2e2");

svg.append("g").selectAll("path").data(features.filter(d=>d.properties.value==null)).join("path")
  .attr("d",path).attr("fill","url(#nodata)").attr("stroke","#d4d4d4").attr("stroke-width",.6).attr("stroke-linejoin","round");
svg.append("g").selectAll("path").data(features.filter(d=>d.properties.value!=null)).join("path")
  .attr("d",path).attr("fill",d=>color(d.properties.value)).attr("stroke","#8a8a8a").attr("stroke-opacity",.75).attr("stroke-width",.5).attr("stroke-linejoin","round")
  .append("title").text(d=>d.properties.name);

// Header
svg.append("text").attr("x",16).attr("y",39).attr("font-family","'Liberation Serif', serif").attr("font-weight",700)
  .attr("font-size",26).attr("fill","#363636").attr("textLength",684).attr("lengthAdjust","spacingAndGlyphs").text(titleText);
svg.append("text").attr("x",16).attr("y",64).attr("font-family",font).attr("font-size",15).attr("fill","#5b5b5b").text(subtitleText);
// Logo
const logo = svg.append("g");
logo.append("rect").attr("x",770).attr("y",16).attr("width",64).attr("height",36).attr("fill","#002147");
logo.append("rect").attr("x",770).attr("y",49.5).attr("width",64).attr("height",2.5).attr("fill","#ce261e");
logo.selectAll("text").data(["Our World","in Data"]).join("text").attr("x",802).attr("y",(d,i)=>30.5+i*13.5)
  .attr("text-anchor","middle").attr("font-family",font).attr("font-weight",700).attr("font-size",11.8).attr("fill","#fff").text(d=>d);

// Legend
const lx = d3.scaleLinear().domain([0,60]).range([253.5,605]);
const legY = 538, legH = 10;
const leg = svg.append("g");
leg.append("rect").attr("x",186).attr("y",legY).attr("width",48).attr("height",legH).attr("fill","url(#nodata)").attr("stroke","#bbb").attr("stroke-width",.6);
leg.append("text").attr("x",210).attr("y",531).attr("text-anchor","middle").attr("font-family",font).attr("font-size",14).attr("fill","#444").text("No data");
const lastEdge = lx(69);
leg.selectAll("path.bin").data(binColors).join("path").attr("class","bin")
  .attr("d",(c,i)=>{
    const a=lx(i*10), b=i<6?lx((i+1)*10):lastEdge;
    return i<6 ? `M${a},${legY}H${b}V${legY+legH}H${a}Z` : `M${a},${legY}H${b}L${b+5},${legY+legH/2}L${b},${legY+legH}H${a}Z`;
  }).attr("fill",c=>c).attr("stroke","#8a8a8a").attr("stroke-opacity",.7).attr("stroke-width",.5);
leg.selectAll("text.tick").data(legendTicks).join("text").attr("class","tick").attr("x",d=>lx(d)).attr("y",531)
  .attr("text-anchor","middle").attr("font-family",font).attr("font-size",14).attr("fill","#444").text(d=>d+"%");

// Footer
const foot = svg.append("text").attr("x",16).attr("y",581).attr("font-family",font).attr("font-size",13).attr("fill","#5b5b5b");
foot.append("tspan").attr("font-weight",700).text("Data source:");
foot.append("tspan").text(" World Bank Enterprise Surveys (2024)");
svg.append("text").attr("x",832).attr("y",581).attr("text-anchor","end").attr("font-family",font).attr("font-size",13).attr("fill","#5b5b5b").text("CC BY");
</script></body></html>
